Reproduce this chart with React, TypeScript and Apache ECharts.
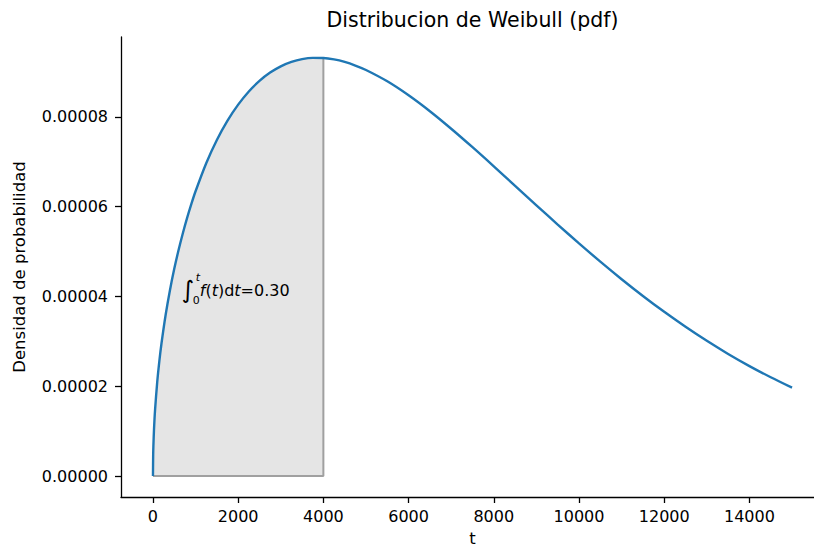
import { useEffect, useRef } from "react";
import * as echarts from "echarts";

// Sample times (t) and Weibull density values f(t)
const tValues = [
  0, 5, 10, 25, 50, 100, 150, 200, 300, 400, 500, 600, 700, 800, 900, 1000,
  1250, 1500, 1750, 2000, 2250, 2500, 2750, 3000, 3250, 3500, 3750, 4000, 4250,
  4500, 4750, 5000, 5500, 6000, 6500, 7000, 7500, 8000, 8500, 9000, 9500,
  10000, 10500, 11000, 11500, 12000, 12500, 13000, 13500, 14000, 14500, 15000,
];
const pdfValues = [
  0, 4.69e-6, 6.63e-6, 1.048e-5, 1.482e-5, 2.093e-5, 2.561e-5, 2.953e-5,
  3.605e-5, 4.146e-5, 4.615e-5, 5.03e-5, 5.404e-5, 5.745e-5, 6.056e-5,
  6.343e-5, 6.968e-5, 7.486e-5, 7.917e-5, 8.273e-5, 8.566e-5, 8.802e-5,
  8.987e-5, 9.126e-5, 9.224e-5, 9.286e-5, 9.313e-5, 9.31e-5, 9.279e-5,
  9.223e-5, 9.143e-5, 9.044e-5, 8.792e-5, 8.481e-5, 8.126e-5, 7.736e-5,
  7.324e-5, 6.898e-5, 6.465e-5, 6.031e-5, 5.602e-5, 5.183e-5, 4.776e-5,
  4.385e-5, 4.012e-5, 3.658e-5, 3.325e-5, 3.012e-5, 2.72e-5, 2.45e-5,
  2.201e-5, 1.969e-5,
];

// Upper limit of the shaded integral and its value
const shadeLimit = 4000;
const integralValue = "0.30";
// Anchor of the integral label (data coordinates)
const labelAnchor = [700, 0.00004];

const xTicks = [0, 2000, 4000, 6000, 8000, 10000, 12000, 14000];
const yTicks = [0, 0.00002, 0.00004, 0.00006, 0.00008];

const titleText = "Distribucion de Weibull (pdf)";
const xName = "t";
const yName = "Densidad de probabilidad";

const FONT = "DejaVu Sans";
const SMOOTH = 0.3;

export default function App() {
  const ref = useRef<HTMLDivElement>(null);

  useEffect(() => {
    if (!ref.current) return;
    const chart = echarts.init(ref.current, undefined, { renderer: "svg" });

    const curve = tValues.map((t, i) => [t, pdfValues[i]]);
    const shade = curve.filter((p) => p[0] <= shadeLimit);
    const limitIdx = tValues.indexOf(shadeLimit);
    const edge = [
      [0, 0],
      [shadeLimit, 0],
      [shadeLimit, pdfValues[limitIdx]],
    ];

    const peak = Math.max(...pdfValues);
    const yPad = peak * 0.05;
    const xMax = tValues[tValues.length - 1];
    const xPad = xMax * 0.05;

    chart.setOption({
      animation: false,
      grid: { left: 121, top: 37, width: 703, height: 460, outerBoundsMode: "none" },
      graphic: [
        {
          type: "text",
          x: 472.5,
          y: 20,
          style: {
            text: titleText,
            fontFamily: FONT,
            fontSize: 20.5,
            fill: "#000",
            textAlign: "center",
            textVerticalAlign: "middle",
          },
        },
      ],
      xAxis: {
        type: "value",
        min: -xPad,
        max: xMax + xPad,
        name: xName,
        nameLocation: "middle",
        nameGap: 33,
        nameTextStyle: { fontFamily: FONT, fontSize: 16.5, color: "#000" },
        splitLine: { show: false },
        axisLine: { show: true, onZero: false, lineStyle: { color: "#000", width: 1.3 } },
        axisTick: {
          show: true,
          customValues: xTicks,
          length: 6,
          lineStyle: { color: "#000", width: 1.3 },
        },
        axisLabel: {
          customValues: xTicks,
          fontFamily: FONT,
          fontSize: 16,
          color: "#000",
          margin: 11,
          formatter: (v: number) => String(v),
        },
      },
      yAxis: {
        type: "value",
        min: -yPad,
        max: peak + yPad,
        name: yName,
        nameLocation: "middle",
        nameGap: 93,
        nameRotate: 90,
        nameTextStyle: { fontFamily: FONT, fontSize: 16.5, color: "#000" },
        splitLine: { show: false },
        axisLine: { show: true, onZero: false, lineStyle: { color: "#000", width: 1.3 } },
        axisTick: {
          show: true,
          customValues: yTicks,
          length: 6,
          lineStyle: { color: "#000", width: 1.3 },
        },
        axisLabel: {
          customValues: yTicks,
          fontFamily: FONT,
          fontSize: 16,
          color: "#000",
          margin: 13,
          formatter: (v: number) => v.toFixed(5),
        },
      },
      series: [
        {
          type: "line",
          data: shade,
          smooth: SMOOTH,
          showSymbol: false,
          symbol: "none",
          lineStyle: { width: 0 },
          areaStyle: { color: "#e5e5e5", opacity: 1 },
          z: 1,
        },
        {
          type: "line",
          data: edge,
          showSymbol: false,
          symbol: "none",
          lineStyle: { color: "#a0a0a0", width: 2 },
          z: 2,
        },
        {
          type: "line",
          data: curve,
          smooth: SMOOTH,
          showSymbol: false,
          symbol: "none",
          lineStyle: { color: "#1f77b4", width: 2.4 },
          z: 3,
        },
        {
          type: "custom",
          data: [labelAnchor],
          z: 4,
          renderItem: (_params: any, api: any) => {
            const p = api.coord([api.value(0), api.value(1)]);
            const x = p[0];
            const y = p[1];
            return {
              type: "group",
              children: [
                {
                  type: "text",
                  x: x - 1,
                  y: y - 6.5,
                  style: {
                    text: "\u222B",
                    fontFamily: FONT,
                    fontSize: 24,
                    fill: "#000",
                    textVerticalAlign: "middle",
                  },
                },
                {
                  type: "text",
                  x: x + 13,
                  y: y - 19,
                  style: {
                    text: "t",
                    fontFamily: FONT,
                    fontStyle: "italic",
                    fontSize: 11,
                    fill: "#000",
                    textVerticalAlign: "middle",
                  },
                },
                {
                  type: "text",
                  x: x + 10,
                  y: y + 4,
                  style: {
                    text: "0",
                    fontFamily: FONT,
                    fontSize: 11,
                    fill: "#000",
                    textVerticalAlign: "middle",
                  },
                },
                {
                  type: "text",
                  x: x + 17,
                  y: y - 6,
                  style: {
                    text: "{i|f}{n|(}{i|t}{n|)d}{i|t}{n|=" + integralValue + "}",
                    fontFamily: FONT,
                    fontSize: 16,
                    fill: "#000",
                    textVerticalAlign: "middle",
                    rich: {
                      i: { fontFamily: FONT, fontSize: 16, fontStyle: "italic", fill: "#000" },
                      n: { fontFamily: FONT, fontSize: 16, fill: "#000" },
                    },
                  },
                },
              ],
            };
          },
        },
      ],
    });

    return () => chart.dispose();
  }, []);

  return (
    <div
      ref={ref}
      style={{ position: "absolute", left: 0, top: 0, width: 814, height: 550 }}
    />
  );
}
